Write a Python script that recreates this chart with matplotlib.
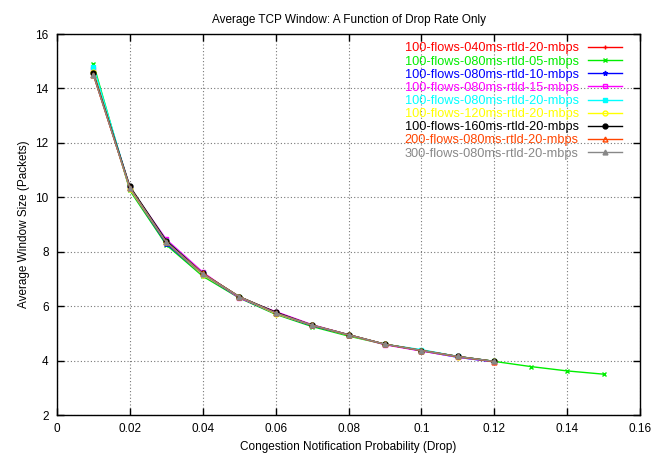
import matplotlib
matplotlib.use("Agg")
import matplotlib.pyplot as plt

plt.rcParams["font.family"] = ["Liberation Sans", "DejaVu Sans"]

DROP = [0.01, 0.02, 0.03, 0.04, 0.05, 0.06, 0.07, 0.08, 0.09, 0.10, 0.11, 0.12]
DROP_LONG = DROP + [0.13, 0.14, 0.15]

NAMES = [
    "100-flows-040ms-rtld-20-mbps",
    "100-flows-080ms-rtld-05-mbps",
    "100-flows-080ms-rtld-10-mbps",
    "100-flows-080ms-rtld-15-mbps",
    "100-flows-080ms-rtld-20-mbps",
    "100-flows-120ms-rtld-20-mbps",
    "100-flows-160ms-rtld-20-mbps",
    "200-flows-080ms-rtld-20-mbps",
    "300-flows-080ms-rtld-20-mbps",
]
COLORS = ["#ff0000", "#00ee00", "#0000ff", "#ff00ff", "#00ffff",
          "#ffff00", "#000000", "#ff4500", "#888888"]
MARKERS = ["+", "x", "*", "s", "s", "o", "o", "^", "^"]
FILLED = [True, True, True, False, True, False, True, False, True]

W_040_20 = [14.5, 10.35, 8.35, 7.2, 6.35, 5.75, 5.3, 4.95, 4.6, 4.38, 4.15, 3.97]
W_080_05 = [14.9, 10.25, 8.25, 7.1, 6.3, 5.7, 5.25, 4.9, 4.6, 4.38, 4.15, 3.97, 3.78, 3.62, 3.5]
W_080_10 = [14.6, 10.3, 8.3, 7.15, 6.32, 5.72, 5.28, 4.93, 4.6, 4.36, 4.12, 3.95]
W_080_15 = [14.7, 10.35, 8.45, 7.25, 6.3, 5.8, 5.32, 4.95, 4.58, 4.35, 4.13, 3.96]
W_080_20 = [14.8, 10.35, 8.4, 7.2, 6.35, 5.75, 5.3, 4.95, 4.6, 4.4, 4.15, 3.97]
W_120_20 = [14.6, 10.3, 8.35, 7.15, 6.35, 5.72, 5.3, 4.93, 4.6, 4.37, 4.14, 3.97]
W_160_20 = [14.55, 10.4, 8.4, 7.2, 6.35, 5.78, 5.3, 4.95, 4.6, 4.37, 4.15, 3.97]
W_200_20 = [14.5, 10.35, 8.35, 7.2, 6.35, 5.75, 5.3, 4.95, 4.6, 4.37, 4.15, 3.96]
W_300_20 = [14.5, 10.35, 8.35, 7.18, 6.35, 5.75, 5.3, 4.95, 4.6, 4.37, 4.15, 3.97]

SERIES = [W_040_20, W_080_05, W_080_10, W_080_15, W_080_20,
          W_120_20, W_160_20, W_200_20, W_300_20]

fig = plt.figure(figsize=(6.65, 4.59), dpi=100)
ax = fig.add_axes([57 / 665, 1 - 415 / 459, 583 / 665, 381 / 459])

for name, ys, c, m, f in zip(NAMES, SERIES, COLORS, MARKERS, FILLED):
    xs = DROP_LONG if len(ys) == len(DROP_LONG) else DROP
    ax.plot(xs, ys, color=c, marker=m, markersize=3.5, linewidth=1,
            markerfacecolor=c if f else "none", markeredgecolor=c,
            markeredgewidth=1, label=name)

ax.set_xlim(0, 0.16)
ax.set_ylim(2, 16)
ax.set_xticks([0, 0.02, 0.04, 0.06, 0.08, 0.1, 0.12, 0.14, 0.16])
ax.set_xticklabels(["0", "0.02", "0.04", "0.06", "0.08", "0.1", "0.12", "0.14", "0.16"])
ax.set_yticks([2, 4, 6, 8, 10, 12, 14, 16])
ax.tick_params(direction="in", top=True, right=True, length=5, width=1,
               labelsize=8.5, pad=6, colors="black")
ax.grid(True, linestyle=(0, (1, 2)), color="#777777", linewidth=0.8)
for s in ax.spines.values():
    s.set_linewidth(1)

ax.set_title("Average TCP Window: A Function of Drop Rate Only", fontsize=8.5, pad=8)
ax.set_xlabel("Congestion Notification Probability (Drop)", fontsize=8.5)
ax.set_ylabel("Average Window Size (Packets)", fontsize=8.5)

leg = ax.legend(loc="upper right", bbox_to_anchor=(0.969, 0.978),
                frameon=False, markerfirst=False,
                labelcolor="linecolor", fontsize=9.15, handlelength=2.7,
                handletextpad=0.7, labelspacing=0.09, borderaxespad=0,
                borderpad=0)

plt.savefig("out.png", dpi=100)
